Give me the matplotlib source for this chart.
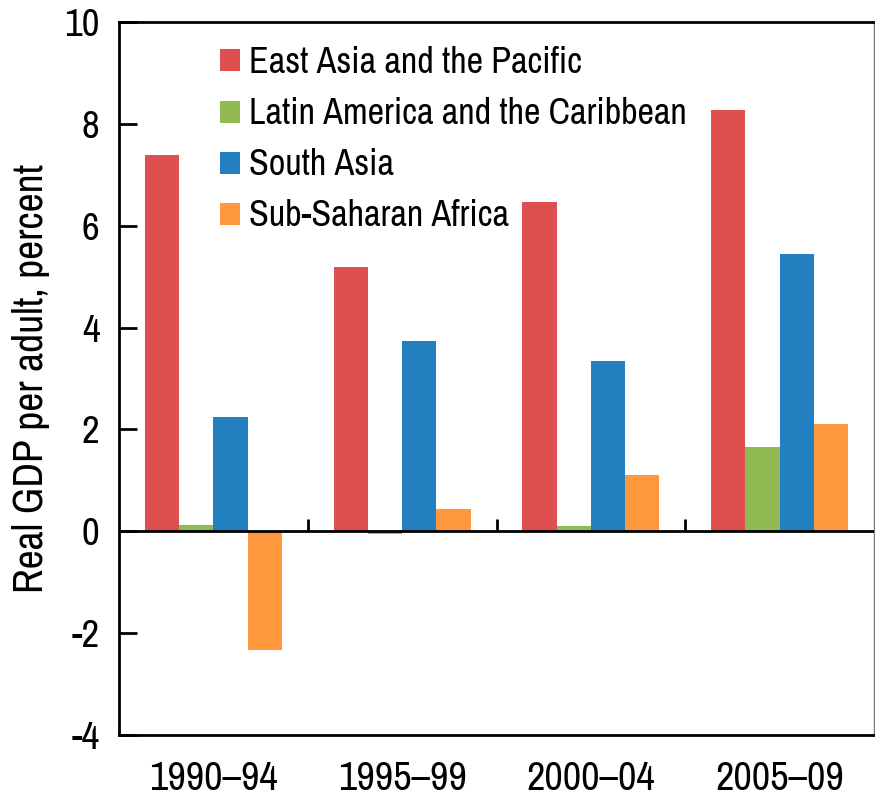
import matplotlib
matplotlib.use("Agg")
import matplotlib.pyplot as plt
from matplotlib import font_manager
import numpy as np

periods = ["1990–94", "1995–99", "2000–04", "2005–09"]
series_names = ["East Asia and the Pacific", "Latin America and the Caribbean",
                "South Asia", "Sub-Saharan Africa"]
east_asia = [7.39, 5.19, 6.47, 8.28]
latin_america = [0.13, -0.05, 0.10, 1.65]
south_asia = [2.24, 3.73, 3.34, 5.44]
ssa = [-2.34, 0.43, 1.10, 2.10]
yticks = [-4, -2, 0, 2, 4, 6, 8, 10]
colors = ["#DE4F4F", "#91BB52", "#2380C0", "#FF973D"]

names = {f.name for f in font_manager.fontManager.ttflist}
fam = "Liberation Sans"
for cand in ["Liberation Sans Narrow", "Archivo Narrow", "Roboto Condensed", "PT Sans Narrow"]:
    if cand in names:
        fam = cand
        break
plt.rcParams["font.family"] = [fam, "DejaVu Sans"]

fig = plt.figure(figsize=(8.75, 8.08), dpi=100)
ax = fig.add_axes([0.136, 0.0903, 0.8629, 0.8825])

data = [east_asia, latin_america, south_asia, ssa]
x = np.arange(len(periods))
w = 0.1815
for i, (vals, name, c) in enumerate(zip(data, series_names, colors)):
    ax.bar(x + (i - 1.5) * w, vals, width=w, color=c, label=name, linewidth=0)

ax.set_xlim(-0.5, 3.5)
ax.set_ylim(-4, 10)
ax.axhline(0, color="black", lw=2, zorder=3)
for b in [0.5, 1.5, 2.5]:
    ax.plot([b, b], [0, 0.24], color="black", lw=2, zorder=3, solid_capstyle="butt")

ax.set_yticks(yticks)
ax.set_yticklabels([str(v) for v in yticks], fontsize=28)
ax.tick_params(axis="y", direction="in", length=13, width=2, pad=14)
ax.set_xticks(x)
ax.set_xticklabels(periods, fontsize=29)
ax.tick_params(axis="x", length=0, pad=18)

for s in ["left", "top", "bottom"]:
    ax.spines[s].set_linewidth(2)
    ax.spines[s].set_color("black")
ax.spines["right"].set_linewidth(1)
ax.spines["right"].set_color("#777777")

ax.set_ylabel("Real GDP per adult, percent", fontsize=30, labelpad=10)

leg = ax.legend(loc="upper left", bbox_to_anchor=(0.134, 0.966), frameon=False,
                fontsize=26, handlelength=0.56, handleheight=0.56,
                handletextpad=0.25, labelspacing=0.5, borderaxespad=0,
                borderpad=0)

fig.savefig("out.png", dpi=100)
